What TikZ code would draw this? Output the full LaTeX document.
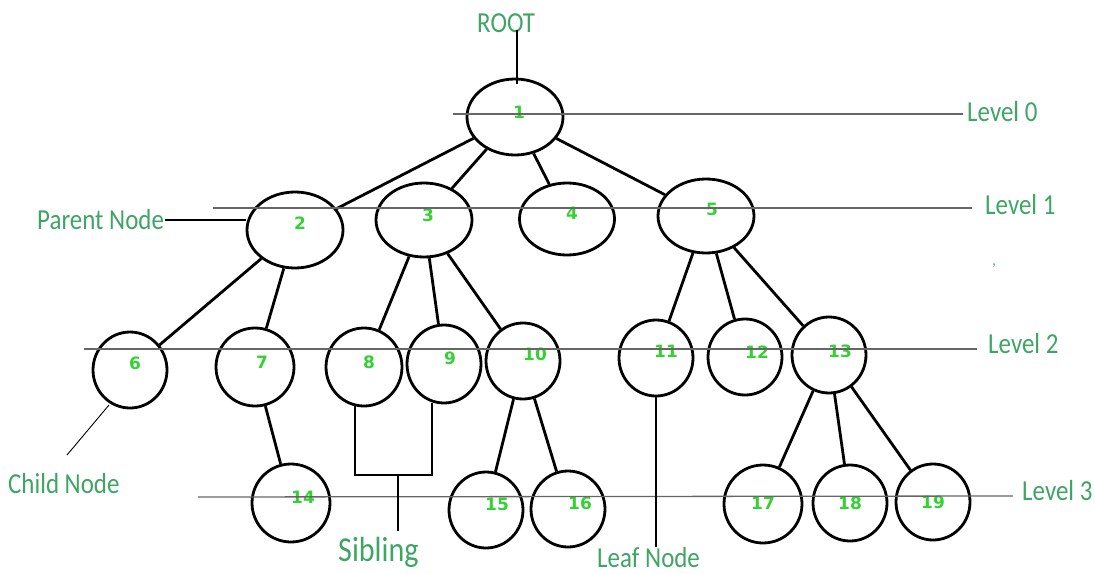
\documentclass[tikz,border=0pt]{standalone}
\usepackage{fontspec}
\setmainfont{Carlito}[FakeStretch=0.86]
\newfontfamily\numfont{DejaVu Sans}
\usetikzlibrary{shapes.geometric}
\definecolor{lblgreen}{RGB}{62,165,100}
\definecolor{numgreen}{RGB}{50,210,50}
\begin{document}
\begin{tikzpicture}[x=1pt,y=-1pt,
  tnode/.style={draw=black, line width=2.8pt, ellipse, inner sep=0pt},
  branch/.style={line width=2.8pt},
  lvl/.style={draw=black!60, line width=1.3pt},
  note/.style={line width=1.2pt},
  lbl/.style={text=lblgreen, font=\fontsize{29}{34}\selectfont, inner sep=0pt},
  num/.style={text=numgreen, font=\numfont\bfseries\fontsize{17}{20}\selectfont, inner sep=0pt}]
\useasboundingbox (0,0) rectangle (1095,573);
% level 0
\node[tnode, minimum width=96pt, minimum height=76pt] (n1) at (515,117) {};
% level 1
\node[tnode, minimum width=96pt, minimum height=76pt] (n2) at (295,230) {};
\node[tnode, minimum width=96pt, minimum height=74pt] (n3) at (424,220) {};
\node[tnode, minimum width=95pt, minimum height=72pt] (n4) at (567,219) {};
\node[tnode, minimum width=96pt, minimum height=74pt] (n5) at (706,216) {};
% level 2
\node[tnode, minimum width=74pt, minimum height=76pt] (n6) at (130,370) {};
\node[tnode, minimum width=78pt, minimum height=78pt] (n7) at (255,367) {};
\node[tnode, minimum width=76pt, minimum height=78pt] (n8) at (364,367) {};
\node[tnode, minimum width=74pt, minimum height=78pt] (n9) at (444,364) {};
\node[tnode, minimum width=74pt, minimum height=76pt] (n10) at (523,361) {};
\node[tnode, minimum width=74pt, minimum height=76pt] (n11) at (656,358) {};
\node[tnode, minimum width=74pt, minimum height=76pt] (n12) at (745,357) {};
\node[tnode, minimum width=74pt, minimum height=76pt] (n13) at (829,355) {};
% level 3
\node[tnode, minimum width=78pt, minimum height=78pt] (n14) at (291,503) {};
\node[tnode, minimum width=74pt, minimum height=76pt] (n15) at (486,510) {};
\node[tnode, minimum width=74pt, minimum height=76pt] (n16) at (568,509) {};
\node[tnode, minimum width=78pt, minimum height=78pt] (n17) at (763,504) {};
\node[tnode, minimum width=74pt, minimum height=76pt] (n18) at (850,503) {};
\node[tnode, minimum width=74pt, minimum height=76pt] (n19) at (933,502) {};
% numbers
\node[num] at (519,112) {1};
\node[num] at (300,223) {2};
\node[num] at (428,215) {3};
\node[num] at (572,213) {4};
\node[num] at (712,209) {5};
\node[num] at (135,363) {6};
\node[num] at (262,362) {7};
\node[num] at (369,362) {8};
\node[num] at (450,358) {9};
\node[num] at (535,354) {10};
\node[num] at (666,351) {11};
\node[num] at (757,352) {12};
\node[num] at (840,351) {13};
\node[num] at (303,497) {14};
\node[num] at (497,504) {15};
\node[num] at (580,503) {16};
\node[num] at (763,503) {17};
\node[num] at (850,503) {18};
\node[num] at (933,502) {19};
% branches
\draw[branch] (n1) -- (n2);
\draw[branch] (n1) -- (n3);
\draw[branch] (n1) -- (n4);
\draw[branch] (n1) -- (n5);
\draw[branch] (n2) -- (n6);
\draw[branch] (n2) -- (n7);
\draw[branch] (n3) -- (n8);
\draw[branch] (n3) -- (n9);
\draw[branch] (n3) -- (n10);
\draw[branch] (n5) -- (n11);
\draw[branch] (n5) -- (n12);
\draw[branch] (n5) -- (n13);
\draw[branch] (n7) -- (n14);
\draw[branch] (n10) -- (n15);
\draw[branch] (n10) -- (n16);
\draw[branch] (n13) -- (n17);
\draw[branch] (n13) -- (n18);
\draw[branch] (n13) -- (n19);
% level labels and lines
\node[lbl, anchor=base west] (lv0) at (967,121) {Level 0};
\node[lbl, anchor=base west] (lv1) at (985,214) {Level 1};
\node[lbl, anchor=base west] (lv2) at (988,353) {Level 2};
\node[lbl, anchor=base west] (lv3) at (1022,500) {Level 3};
\coordinate (l0s) at (453,114);
\coordinate (l0e) at (963,114);
\coordinate (l1s) at (213,208);
\coordinate (l1e) at (972,208);
\coordinate (l2s) at (84,349);
\coordinate (l2e) at (977,349);
\coordinate (l3s) at (198,497);
\coordinate (l3e) at (1013,496);
\draw[lvl] (l0s) -- (l0e);
\draw[lvl] (l1s) -- (l1e);
\draw[lvl] (l2s) -- (l2e);
\draw[lvl] (l3s) -- (l3e);
% annotations
\node[lbl, anchor=base west] (root) at (477,32) {ROOT};
\coordinate (roott) at (517,30);
\coordinate (rootb) at (517,84);
\draw[note] (roott) -- (rootb);
\node[lbl, anchor=base west] (parent) at (37,229) {Parent Node};
\coordinate (pa) at (165,220);
\draw[note] (pa) -- (n2.west |- pa);
\node[lbl, anchor=base west] (child) at (8,493) {Child Node};
\coordinate (ch1) at (109,405);
\coordinate (ch2) at (67,455);
\draw[note, line width=0.9pt] (ch1) -- (ch2);
\coordinate (s8) at (355,406);
\coordinate (s9) at (432,403);
\coordinate (sjoin) at (398,475);
\draw[note] (s8) -- (s8 |- sjoin) -- (s9 |- sjoin) -- (s9);
\node[lbl, font=\fontsize{35}{40}\selectfont, anchor=base west] (sib) at (338,561) {Sibling};
\coordinate (sibtop) at (398,531);
\draw[note] (sjoin) -- (sibtop);
\node[lbl, anchor=base west] (leaf) at (597,567) {Leaf Node};
\coordinate (leaftop) at (656,547);
\draw[note] (n11.south) -- (leaftop);
\node[lbl, font=\fontsize{16}{18}\selectfont] (comma) at (994,266) {,};
\end{tikzpicture}
\end{document}
